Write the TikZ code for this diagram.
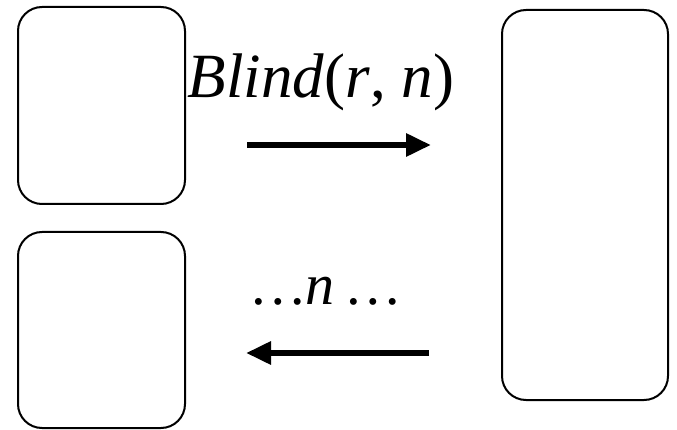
\documentclass[tikz,border=0pt]{standalone}
\usepackage{fontspec}
\setmainfont{Liberation Serif}
\usetikzlibrary{arrows.meta}
\begin{document}
\begin{tikzpicture}[x=1pt,y=-1pt,
  party/.style={draw=black,line width=2pt,rounded corners=24pt,inner sep=0pt},
  msg/.style={line width=6pt,-{Triangle[length=25pt,width=22pt]}},
  lbl/.style={font=\fontsize{58}{60}\selectfont,inner sep=0pt,anchor=base}]
\useasboundingbox (0,0) rectangle (677,430);
\node[party,minimum width=167pt,minimum height=197pt] (a) at (101.5,105.5) {};
\node[party,minimum width=167pt,minimum height=196pt] (b) at (101.5,330) {};
\node[party,minimum width=166pt,minimum height=390pt] (c) at (585,205) {};
\coordinate (s1) at (247,145);
\coordinate (e1) at (431,145);
\coordinate (s2) at (429,353);
\coordinate (e2) at (246,353);
\draw[msg] (s1) -- (e1);
\draw[msg] (s2) -- (e2);
\node[lbl,font=\fontsize{63}{65}\selectfont] (t1) at (321,98) {\textit{Blind}(\textit{r}, \textit{n})};
\node[lbl] (t2) at (327,305) {\textit{\dots n \dots}};
\end{tikzpicture}
\end{document}
